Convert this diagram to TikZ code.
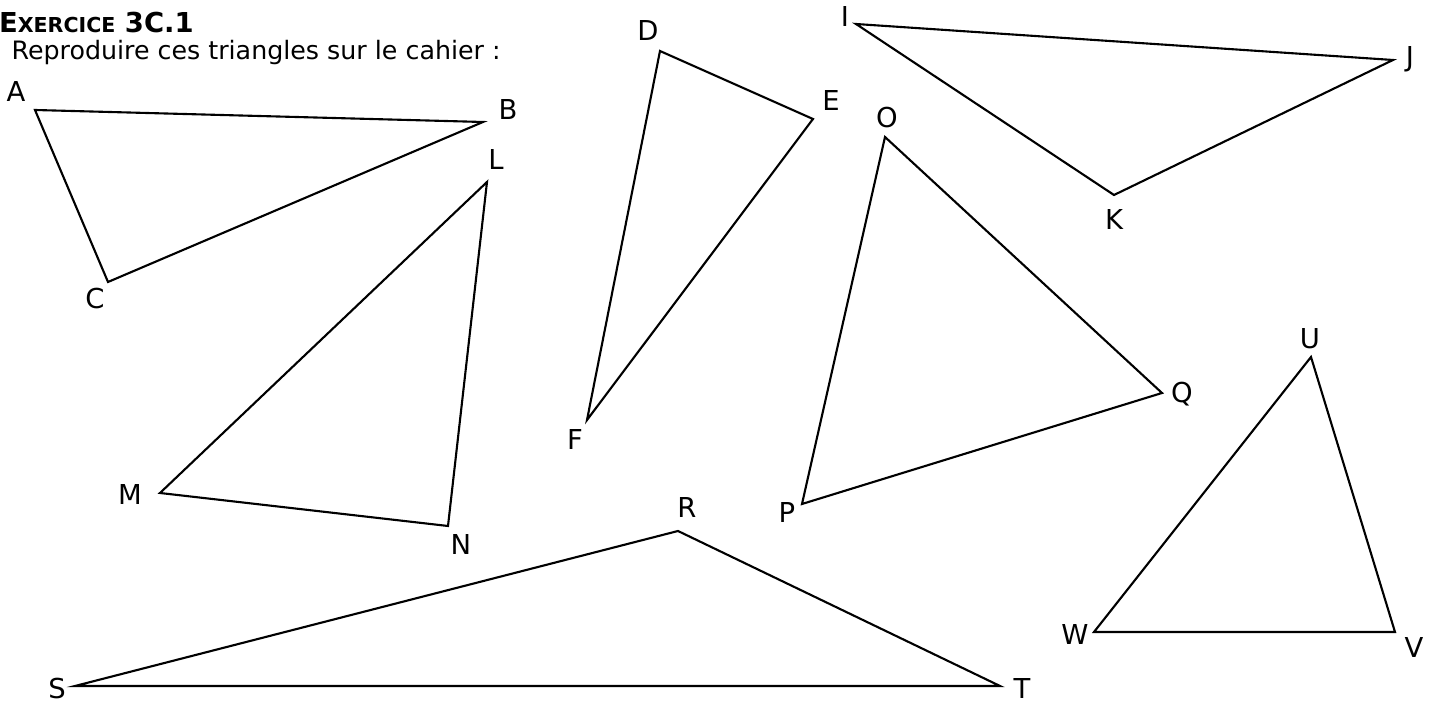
\documentclass[tikz,border=0pt]{standalone}
\usepackage{fontspec}
\setmainfont{DejaVu Sans}
\usepackage{tikz}

\begin{document}
\begin{tikzpicture}[x=0.01cm, y=-0.01cm, line width=0.6pt,
    lbl/.style={font=\fontsize{7.8}{9}\selectfont, inner sep=0pt, anchor=base}]
  \useasboundingbox (0,0) rectangle (1435,704);

  \node [anchor=base west, inner sep=0pt, font=\fontsize{7.8}{9}\selectfont\bfseries] (titre) at (-2,33) {E{\fontsize{5.85}{7}\selectfont XERCICE} 3C.1};
  \node [anchor=base west, inner sep=0pt, font=\fontsize{7.2}{9}\selectfont] (consigne) at (10.5,60) {Reproduire ces triangles sur le cahier :};

  % sommets
  \coordinate (A) at (35,110);
  \coordinate (B) at (483,122);
  \coordinate (C) at (108,282);
  \coordinate (D) at (660,51);
  \coordinate (E) at (813,119);
  \coordinate (F) at (587,420);
  \coordinate (I) at (856,24);
  \coordinate (J) at (1393,60);
  \coordinate (K) at (1114,195);
  \coordinate (L) at (487,182);
  \coordinate (M) at (160,493);
  \coordinate (N) at (448,526);
  \coordinate (O) at (885,137);
  \coordinate (P) at (802,504);
  \coordinate (Q) at (1162,393);
  \coordinate (R) at (678,531);
  \coordinate (S) at (75,686);
  \coordinate (T) at (1000,686);
  \coordinate (U) at (1311,357);
  \coordinate (V) at (1395,632);
  \coordinate (W) at (1094,632);

  % noms des sommets
  \node [lbl] (a) at (16,102) {A};
  \node [lbl] (b) at (508,120) {B};
  \node [lbl] (c) at (95,309) {C};
  \node [lbl] (d) at (648,41) {D};
  \node [lbl] (e) at (831,111) {E};
  \node [lbl] (f) at (575,450) {F};
  \node [lbl] (i) at (845,27) {I};
  \node [lbl] (j) at (1410,67) {J};
  \node [lbl] (k) at (1114,230) {K};
  \node [lbl] (l) at (496,170) {L};
  \node [lbl] (m) at (130,505) {M};
  \node [lbl] (n) at (461,555) {N};
  \node [lbl] (o) at (887,128) {O};
  \node [lbl] (p) at (787,523) {P};
  \node [lbl] (q) at (1182,403) {Q};
  \node [lbl] (r) at (687,518) {R};
  \node [lbl] (s) at (57,699) {S};
  \node [lbl] (t) at (1022,699) {T};
  \node [lbl] (u) at (1310,349) {U};
  \node [lbl] (v) at (1414,658) {V};
  \node [lbl] (w) at (1075,645) {W};

  \draw (A) -- (B) -- (C) -- cycle;
  \draw (D) -- (E) -- (F) -- cycle;
  \draw (I) -- (J) -- (K) -- cycle;
  \draw (L) -- (M) -- (N) -- cycle;
  \draw (O) -- (Q) -- (P) -- cycle;
  \draw (R) -- (T) -- (S) -- cycle;
  \draw (U) -- (V) -- (W) -- cycle;

\end{tikzpicture}
\end{document}
